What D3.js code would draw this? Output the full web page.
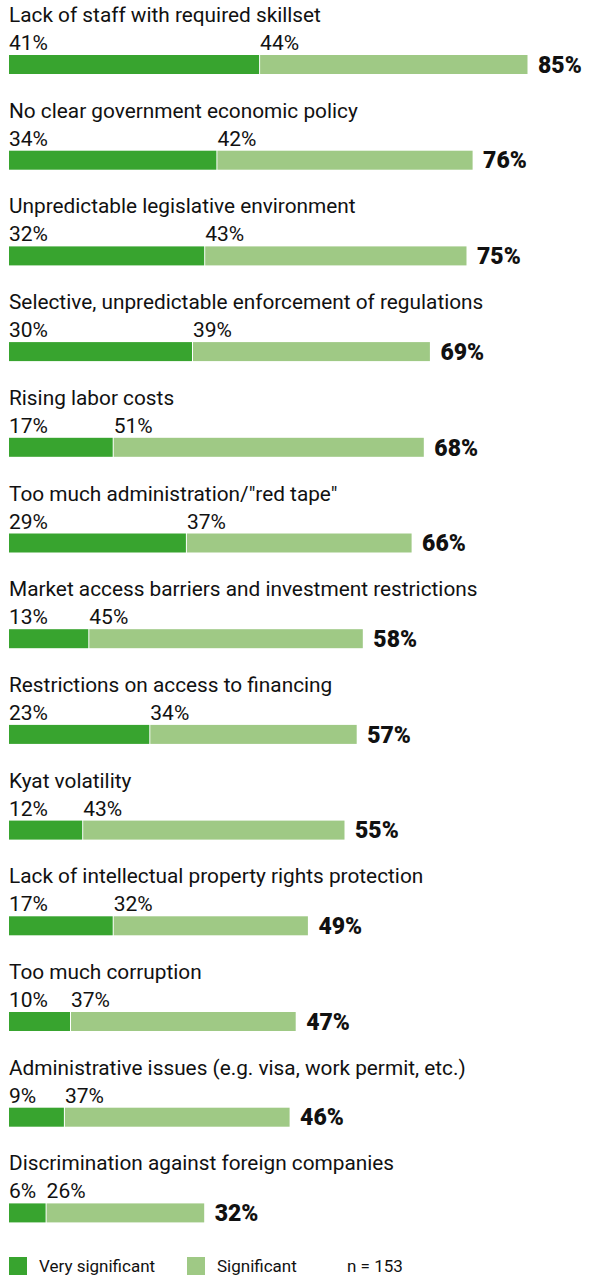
<!DOCTYPE html>
<html>
<head>
<meta charset="utf-8">
<script src="https://cdn.jsdelivr.net/npm/d3@7"></script>
<style>
  html, body { margin: 0; padding: 0; background: #fff; }
  svg { display: block; }
  text { font-family: Roboto, "Liberation Sans", sans-serif; fill: #111; }
</style>
</head>
<body>
<div id="chart"></div>
<script>
// Obstacles to doing business, share of respondents
const categories = [
  "Lack of staff with required skillset",
  "No clear government economic policy",
  "Unpredictable legislative environment",
  "Selective, unpredictable enforcement of regulations",
  "Rising labor costs",
  "Too much administration/\"red tape\"",
  "Market access barriers and investment restrictions",
  "Restrictions on access to financing",
  "Kyat volatility",
  "Lack of intellectual property rights protection",
  "Too much corruption",
  "Administrative issues (e.g. visa, work permit, etc.)",
  "Discrimination against foreign companies"
];
const verySignificant = [41, 34, 32, 30, 17, 29, 13, 23, 12, 17, 10, 9, 6];
const significant     = [44, 42, 43, 39, 51, 37, 45, 34, 43, 32, 37, 37, 26];
const totals          = [85, 76, 75, 69, 68, 66, 58, 57, 55, 49, 47, 46, 32];
const seriesNames = ["Very significant", "Significant"];
const sampleNote = "n = 153";

const colors = ["#38a42f", "#9fc985"];

const width = 595, height = 1276;
const svg = d3.select("#chart").append("svg")
  .attr("width", width).attr("height", height);

const x = d3.scaleLinear().domain([0, 100]).range([9, 619]);
const y = d3.scaleBand().domain(d3.range(categories.length))
  .range([55, 55 + 95.7 * categories.length]).paddingInner(0).paddingOuter(0);
const barH = 19;

const rows = svg.selectAll("g.row")
  .data(categories.map((c, i) => ({ c, v: verySignificant[i], s: significant[i], t: totals[i], i })))
  .join("g").attr("class", "row")
  .attr("transform", d => `translate(0,${y(d.i)})`);

// category title
rows.append("text")
  .attr("x", x(0)).attr("y", -33)
  .attr("font-size", 20.8)
  .text(d => d.c);

// bar segments
rows.append("rect")
  .attr("x", x(0)).attr("y", 0)
  .attr("width", d => x(d.v) - x(0)).attr("height", barH)
  .attr("fill", colors[0]);
rows.append("rect")
  .attr("x", d => x(d.v) + 1).attr("y", 0)
  .attr("width", d => x(d.v + d.s) - x(d.v) - 1).attr("height", barH)
  .attr("fill", colors[1]);

// segment value labels
rows.append("text")
  .attr("x", x(0)).attr("y", -5)
  .attr("font-size", 21)
  .text(d => d.v + "%");
rows.append("text")
  .attr("x", d => x(d.v) + 1).attr("y", -5)
  .attr("font-size", 21)
  .text(d => d.s + "%");

// total label
rows.append("text")
  .attr("x", d => x(d.v + d.s) + 10.5).attr("y", barH / 2)
  .attr("dy", "0.36em")
  .attr("font-size", 23).attr("font-weight", 900)
  .text(d => d.t + "%");

// legend
const legend = svg.append("g").attr("transform", "translate(0,1257)");
const items = [{ x: 9, label: seriesNames[0], c: colors[0] }, { x: 187, label: seriesNames[1], c: colors[1] }];
items.forEach(it => {
  legend.append("rect").attr("x", it.x).attr("y", 0).attr("width", 18).attr("height", 18).attr("fill", it.c);
  legend.append("text").attr("x", it.x + 30).attr("y", 15).attr("font-size", 17).attr("fill", "#333").text(it.label);
});
legend.append("text").attr("x", 347).attr("y", 15).attr("font-size", 17).attr("fill", "#333").text(sampleNote);
</script>
</body>
</html>
